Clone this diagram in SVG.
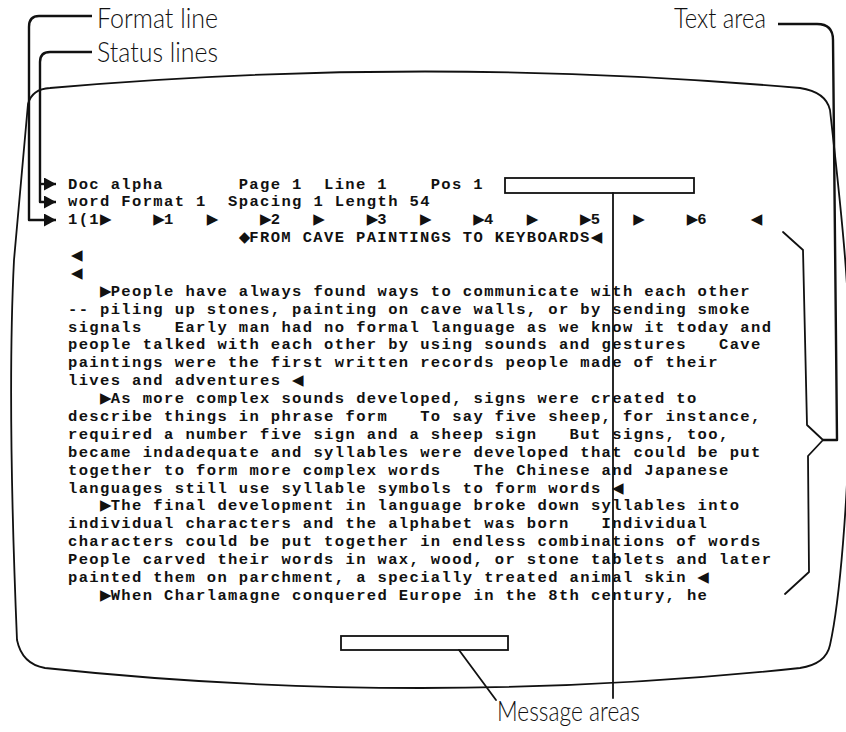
<svg xmlns="http://www.w3.org/2000/svg" width="846" height="732" viewBox="0 0 846 732">
<defs>
<style>
.lbl { font-family: "Lato", "Liberation Sans", sans-serif; font-weight: 300; font-size: 27px; fill: #111; }
.m { font-family: "Liberation Mono", "DejaVu Sans Mono", monospace; font-size: 15.5px; font-weight: bold; letter-spacing: 1.37px; white-space: pre; fill: #111; }
.t { font-family: "DejaVu Sans", sans-serif; font-size: 15px; font-weight: normal; letter-spacing: 0px; }
.ln { fill: none; stroke: #111; stroke-width: 1.8; stroke-linejoin: round; stroke-linecap: round; }
.br { fill: none; stroke: #111; stroke-width: 2.4; stroke-linejoin: round; }
.box { fill: #fff; stroke: #111; stroke-width: 1.8; }
</style>
<marker id="arr" viewBox="0 0 12 13" refX="12" refY="6.5" markerWidth="12" markerHeight="13" markerUnits="userSpaceOnUse" orient="auto">
<path d="M0,0 L12,6.5 L0,13 Z" fill="#111"/>
</marker>
</defs>
<rect width="846" height="732" fill="#fff"/>

<g id="screen">
<path class="ln" d="M 28,104 Q 32,89 50,88 Q 425,55 800,88 Q 826,92 830,110 C 840,200 852,300 850,400 C 848,500 840,600 830,645 Q 826,664 800,668 Q 420,708 45,668 Q 22,664 17,640 C 12,520 8,380 14,260 L 28,104 Z"/>
</g>

<g id="label-format-line"><text class="lbl" x="97" y="28" textLength="121" lengthAdjust="spacingAndGlyphs">Format line</text></g>
<g id="label-status-lines"><text class="lbl" x="97" y="62" textLength="121" lengthAdjust="spacingAndGlyphs">Status lines</text></g>
<g id="label-text-area"><text class="lbl" x="674" y="28" textLength="92" lengthAdjust="spacingAndGlyphs">Text area</text></g>
<g id="label-message-areas"><text class="lbl" x="497" y="721" textLength="143" lengthAdjust="spacingAndGlyphs">Message areas</text></g>

<g id="status-line-1"><text class="m" x="68" y="188.5">Doc alpha<tspan x="238.7">Page 1</tspan><tspan x="324">Line 1</tspan><tspan x="430.7">Pos 1</tspan></text></g>
<g id="status-line-2"><text class="m" x="68" y="206.4">word Format 1  Spacing 1 Length 54</text></g>
<g id="format-line"><text class="m" x="68" y="224.3">1(1<tspan class="t" x="100">▶</tspan><tspan class="t" x="153.3">▶</tspan><tspan x="164">1</tspan><tspan class="t" x="206.7">▶</tspan><tspan class="t" x="260">▶</tspan><tspan x="270.7">2</tspan><tspan class="t" x="313.3">▶</tspan><tspan class="t" x="366.7">▶</tspan><tspan x="377.3">3</tspan><tspan class="t" x="420">▶</tspan><tspan class="t" x="473.3">▶</tspan><tspan x="484">4</tspan><tspan class="t" x="526.7">▶</tspan><tspan class="t" x="580">▶</tspan><tspan x="590.7">5</tspan><tspan class="t" x="633.3">▶</tspan><tspan class="t" x="686.7">▶</tspan><tspan x="697.3">6</tspan><tspan class="t" x="750.7">◀</tspan></text></g>

<g id="message-box-top"><rect class="box" x="505" y="178" width="189" height="15"/></g>
<g id="message-box-bottom"><rect class="box" x="341" y="636" width="167" height="14"/></g>

<g id="text-area">
<text class="m" x="238.7" y="242.1"><tspan class="t">◆</tspan><tspan x="249.3">FROM CAVE PAINTINGS TO KEYBOARDS</tspan><tspan class="t" x="590.7">◀</tspan></text>
<text class="m" x="71" y="260.0"><tspan class="t">◀</tspan></text>
<text class="m" x="71" y="277.9"><tspan class="t">◀</tspan></text>
<text class="m" x="100" y="295.8"><tspan class="t">▶</tspan><tspan x="110.7">People have always found ways to communicate with each other</tspan></text>
<text class="m" x="68" y="313.7">-- piling up stones, painting on cave walls, or by sending smoke</text>
<text class="m" x="68" y="331.5">signals   Early man had no formal language as we know it today and</text>
<text class="m" x="68" y="349.4">people talked with each other by using sounds and gestures   Cave</text>
<text class="m" x="68" y="367.3">paintings were the first written records people made of their</text>
<text class="m" x="68" y="385.2">lives and adventures<tspan class="t" x="292">◀</tspan></text>
<text class="m" x="100" y="403.1"><tspan class="t">▶</tspan><tspan x="110.7">As more complex sounds developed, signs were created to</tspan></text>
<text class="m" x="68" y="420.9">describe things in phrase form   To say five sheep, for instance,</text>
<text class="m" x="68" y="438.8">required a number five sign and a sheep sign   But signs, too,</text>
<text class="m" x="68" y="456.7">became indadequate and syllables were developed that could be put</text>
<text class="m" x="68" y="474.6">together to form more complex words   The Chinese and Japanese</text>
<text class="m" x="68" y="492.5">languages still use syllable symbols to form words<tspan class="t" x="612">◀</tspan></text>
<text class="m" x="100" y="510.3"><tspan class="t">▶</tspan><tspan x="110.7">The final development in language broke down syllables into</tspan></text>
<text class="m" x="68" y="528.2">individual characters and the alphabet was born   Individual</text>
<text class="m" x="68" y="546.1">characters could be put together in endless combinations of words</text>
<text class="m" x="68" y="564.0">People carved their words in wax, wood, or stone tablets and later</text>
<text class="m" x="68" y="581.9">painted them on parchment, a specially treated animal skin<tspan class="t" x="697.3">◀</tspan></text>
<text class="m" x="100" y="599.7"><tspan class="t">▶</tspan><tspan x="110.7">When Charlamagne conquered Europe in the 8th century, he</tspan></text>
</g>

<g id="brace">
<path class="ln" d="M 783,232 L 803,250 L 807,425 L 823,440 L 808,456 L 809,572 L 785,594"/>
</g>

<g id="connectors">
<path class="br" d="M 92,16 H 39 Q 29,16 29,27 V 220 H 56" marker-end="url(#arr)"/>
<path class="br" d="M 92,52 H 50 Q 40,52 40,62 V 202 H 56" marker-end="url(#arr)"/>
<path class="br" d="M 40,184 H 56" marker-end="url(#arr)"/>
<path class="br" d="M 778,24 H 817 Q 833,24 833,40 L 837,440 H 823"/>
<path class="ln" d="M 613,193 V 698"/>
<path class="ln" d="M 459,650 L 496,700"/>
</g>
</svg>
